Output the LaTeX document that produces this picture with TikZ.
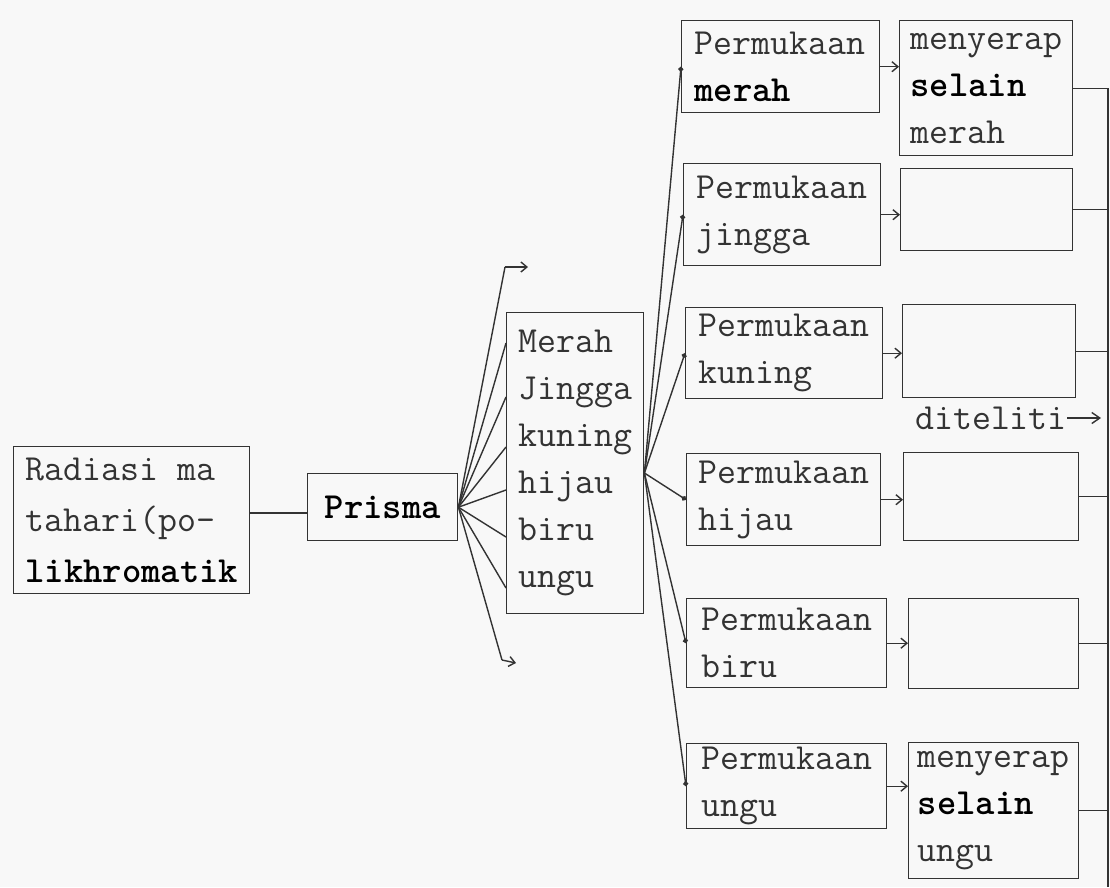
\documentclass[tikz,border=0pt]{standalone}
\usepackage{fontspec}
\usetikzlibrary{arrows.meta}
\definecolor{ink}{HTML}{333333}
\definecolor{paper}{HTML}{F8F8F8}
\newcommand{\twf}{\ttfamily\fontsize{36.8}{47}\selectfont}
\begin{document}
\begin{tikzpicture}[x=1pt,y=-1pt,
  ln/.style={draw=ink, line width=1.4pt},
  box/.style={ln, anchor=north west, align=left, inner sep=0pt, text=ink,
    font=\twf},
  lbl/.style={inner sep=0pt, text=ink, font=\twf},
  bar/.style={ln,-{Straight Barb[length=6pt,width=10pt]}},
  dot/.style={ln,-{Circle[length=5pt]}}]
\fill[paper] (0,0) rectangle (1110,887);
\useasboundingbox (0,0) rectangle (1110,887);

% left part
\node[box, minimum width=236pt, minimum height=147pt,
  font=\ttfamily\fontsize{36.8}{51}\selectfont] (rad) at (13,446)
  {Radiasi ma\\tahari(po-\\\textcolor{black}{\bfseries likhromatik}};
\node[box, minimum width=150pt, minimum height=67pt] (pr) at (307,473)
  {\textcolor{black}{\bfseries Prisma}};
\node[box, minimum width=137pt, minimum height=301pt] (cb) at (506,312)
  {Merah\\Jingga\\kuning\\hijau\\biru\\ungu};

% Permukaan boxes
\node[box, minimum width=198pt, minimum height=92pt] (pm1) at (681,20)
  {Permukaan\\\textcolor{black}{\bfseries merah}\hphantom{aaaa}};
\node[box, minimum width=197pt, minimum height=102pt] (pm2) at (683,163)
  {Permukaan\\jingga};
\node[box, minimum width=197pt, minimum height=91pt] (pm3) at (685,307)
  {Permukaan\\kuning};
\node[box, minimum width=194pt, minimum height=92pt] (pm4) at (686,453)
  {Permukaan\\hijau\hphantom{aaaa}};
\node[box, minimum width=200pt, minimum height=89pt] (pm5) at (686,598)
  {Permukaan\\biru\hphantom{aaaaa}};
\node[box, minimum width=200pt, minimum height=85pt] (pm6) at (686,743)
  {Permukaan\\ungu\hphantom{aaaaa}};

% right boxes
\node[box, minimum width=173pt, minimum height=135pt] (rb1) at (899,20)
  {menyerap\\\textcolor{black}{\bfseries selain}\\merah};
\node[box, minimum width=172pt, minimum height=82pt] (rb2) at (900,168) {};
\node[box, minimum width=173pt, minimum height=93pt] (rb3) at (902,304) {};
\node[box, minimum width=175pt, minimum height=88pt] (rb4) at (903,452) {};
\node[box, minimum width=170pt, minimum height=90pt] (rb5) at (908,598) {};
\node[box, minimum width=170pt, minimum height=136pt] (rb6) at (908,742)
  {menyerap\\\textcolor{black}{\bfseries selain}\\ungu};

\node[lbl, anchor=west] (dit) at (915,418) {diteliti};
\draw[ln,-{Straight Barb[length=8pt,width=11pt]}] (dit.east) -- ++(34,0);

% radiation to prism
\draw[ln] (rad.east |- 0,513) -- (pr.west |- 0,513);

% fan from prism
\coordinate (ft) at (505,267);
\coordinate (fb) at (502,660);
\draw[ln] (pr.east) -- (ft);
\draw[bar] (ft) -- ++(23,0);
\draw[ln] (pr.east) -- (fb);
\draw[bar] (fb) -- ++(14,3);
\foreach \yy in {343,397,447,490,537,588}
  \draw[ln] (pr.east) -- (cb.west |- 0,\yy);

% colours to surfaces
\coordinate (cx) at (cb.east |- 0,473);
\foreach \n in {1,...,6}
  \draw[dot] (cx) -- (pm\n.west);

% surfaces to right boxes
\foreach \n in {1,...,6}
  \draw[bar] (pm\n.east) -- (rb\n.west |- pm\n.east);

% right bus
\coordinate (bt) at (1108,88);
\coordinate (bb) at (1108,887);
\draw[ln] (bt) -- (bb);
\foreach \n in {1,...,6}
  \draw[ln] (rb\n.east) -- (bt |- rb\n.east);
\end{tikzpicture}
\end{document}
